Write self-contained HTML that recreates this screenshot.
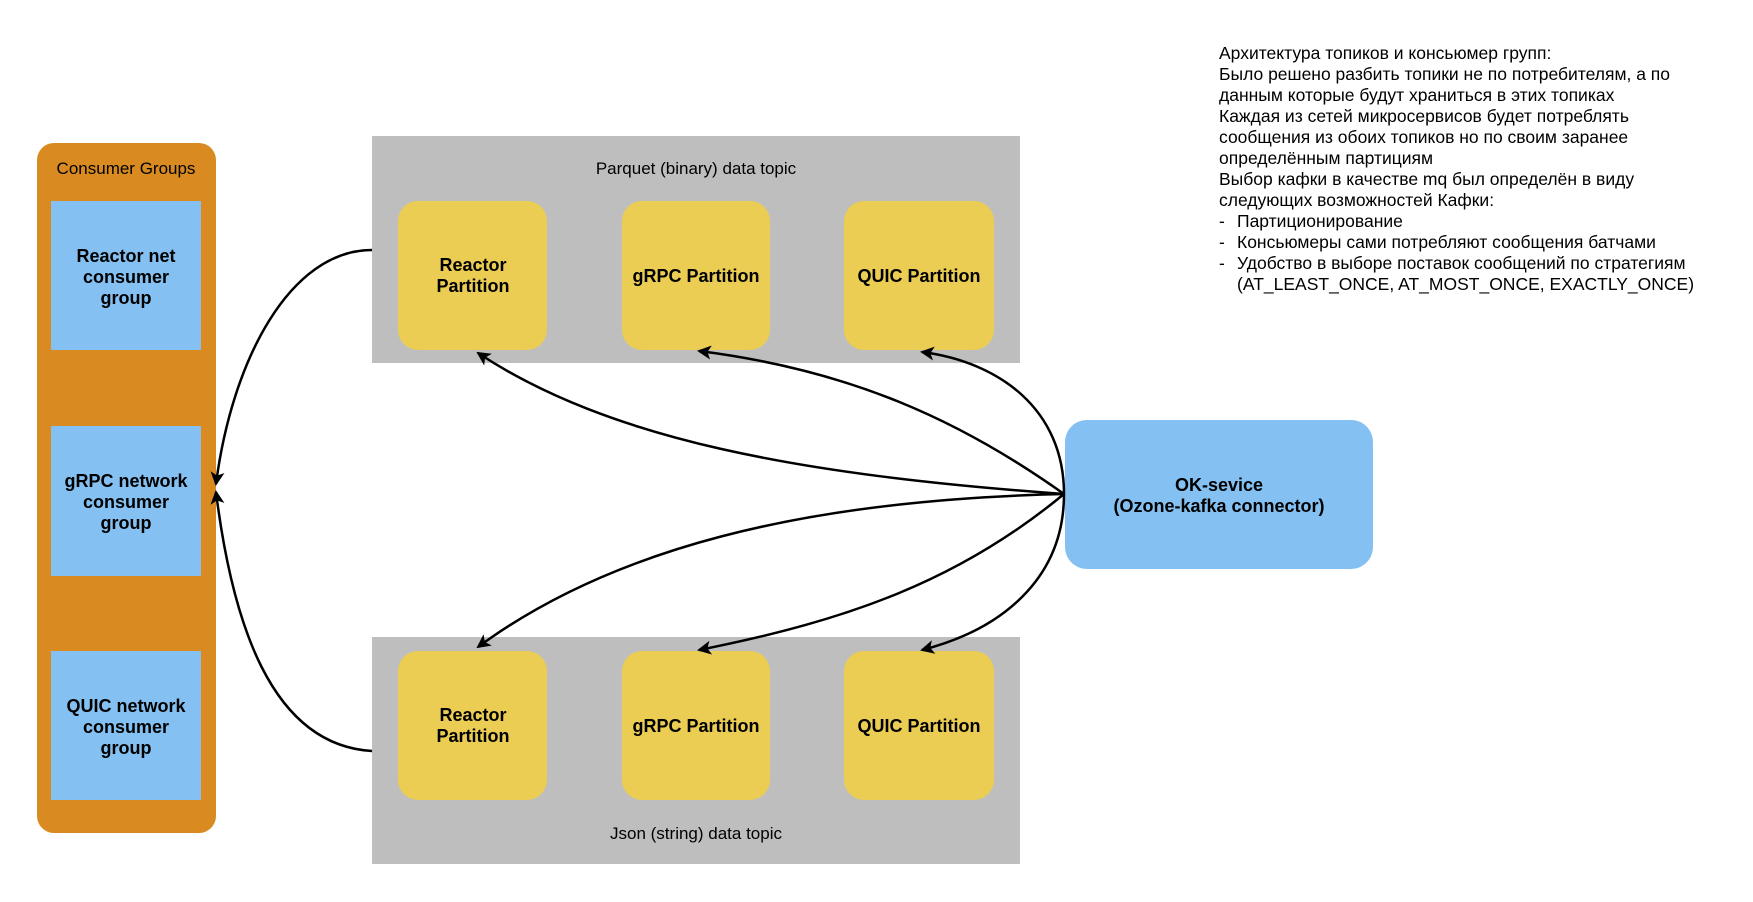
<!DOCTYPE html>
<html><head><meta charset="utf-8"><style>
html,body{margin:0;padding:0;background:#fff;}
svg{display:block;font-family:"Liberation Sans",Arial,sans-serif;}
</style></head><body>
<svg width="1753" height="902" viewBox="0 0 1753 902" xmlns="http://www.w3.org/2000/svg">
<defs>
<marker id="ah" markerWidth="14" markerHeight="14" refX="12" refY="7" orient="auto" markerUnits="userSpaceOnUse">
<path d="M0,0 L14,7 L0,14 L3.5,7 Z" fill="#000"/>
</marker>
</defs>
<rect x="37" y="143" width="179" height="690" rx="17" fill="#d98b22"/>
<text x="126" y="174" font-size="17" text-anchor="middle" fill="#000">Consumer Groups</text>
<rect x="51" y="201" width="150" height="149" fill="#84c1f2"/>
<rect x="51" y="426" width="150" height="150" fill="#84c1f2"/>
<rect x="51" y="651" width="150" height="149" fill="#84c1f2"/>
<g font-size="18" font-weight="bold" text-anchor="middle">
<text x="126" y="262">Reactor net</text><text x="126" y="283">consumer</text><text x="126" y="304">group</text>
<text x="126" y="487">gRPC network</text><text x="126" y="508">consumer</text><text x="126" y="529">group</text>
<text x="126" y="712">QUIC network</text><text x="126" y="733">consumer</text><text x="126" y="754">group</text>
</g>
<rect x="372" y="136" width="648" height="227" fill="#bebebe"/>
<rect x="372" y="637" width="648" height="227" fill="#bebebe"/>
<text x="696" y="174" font-size="17" text-anchor="middle">Parquet (binary) data topic</text>
<text x="696" y="839" font-size="17" text-anchor="middle">Json (string) data topic</text>
<g fill="#eacd52">
<rect x="398" y="201" width="149" height="149" rx="20"/>
<rect x="622" y="201" width="148" height="149" rx="20"/>
<rect x="844" y="201" width="150" height="149" rx="20"/>
<rect x="398" y="651" width="149" height="149" rx="20"/>
<rect x="622" y="651" width="148" height="149" rx="20"/>
<rect x="844" y="651" width="150" height="149" rx="20"/>
</g>
<g font-size="18" font-weight="bold" text-anchor="middle">
<text x="473" y="271">Reactor</text><text x="473" y="292">Partition</text>
<text x="696" y="282">gRPC Partition</text>
<text x="919" y="282">QUIC Partition</text>
<text x="473" y="721">Reactor</text><text x="473" y="742">Partition</text>
<text x="696" y="732">gRPC Partition</text>
<text x="919" y="732">QUIC Partition</text>
</g>
<rect x="1065" y="420" width="308" height="149" rx="22" fill="#84c1f2"/>
<g font-size="18" font-weight="bold" text-anchor="middle">
<text x="1219" y="491">OK-sevice</text>
<text x="1219" y="512">(Ozone-kafka connector)</text>
</g>
<g fill="none" stroke="#000" stroke-width="2.5" marker-end="url(#ah)">
<path d="M1064 494 C1064 410 1000 362 922 352"/>
<path d="M1064 494 C960 420 850 370 699 351"/>
<path d="M1064 494 C800 475 610 440 478 353"/>
<path d="M1064 494 C1064 580 1000 630 922 650"/>
<path d="M1064 494 C960 580 850 620 699 650"/>
<path d="M1064 494 C800 500 610 550 478 647"/>
<path d="M372 250 C290 250 232 360 216 484"/>
<path d="M372 751 C270 745 232 620 216 492"/>
</g>
<g font-size="17.5" fill="#000">
<text x="1219" y="59">Архитектура топиков и консьюмер групп:</text>
<text x="1219" y="80">Было решено разбить топики не по потребителям, а по</text>
<text x="1219" y="101">данным которые будут храниться в этих топиках</text>
<text x="1219" y="122">Каждая из сетей микросервисов будет потреблять</text>
<text x="1219" y="143">сообщения из обоих топиков но по своим заранее</text>
<text x="1219" y="164">определённым партициям</text>
<text x="1219" y="185">Выбор кафки в качестве mq был определён в виду</text>
<text x="1219" y="206">следующих возможностей Кафки:</text>
<text x="1219" y="227">-</text><text x="1237" y="227">Партиционирование</text>
<text x="1219" y="248">-</text><text x="1237" y="248">Консьюмеры сами потребляют сообщения батчами</text>
<text x="1219" y="269">-</text><text x="1237" y="269">Удобство в выборе поставок сообщений по стратегиям</text>
<text x="1237" y="290">(AT_LEAST_ONCE, AT_MOST_ONCE, EXACTLY_ONCE)</text>
</g>
</svg>
</body></html>
